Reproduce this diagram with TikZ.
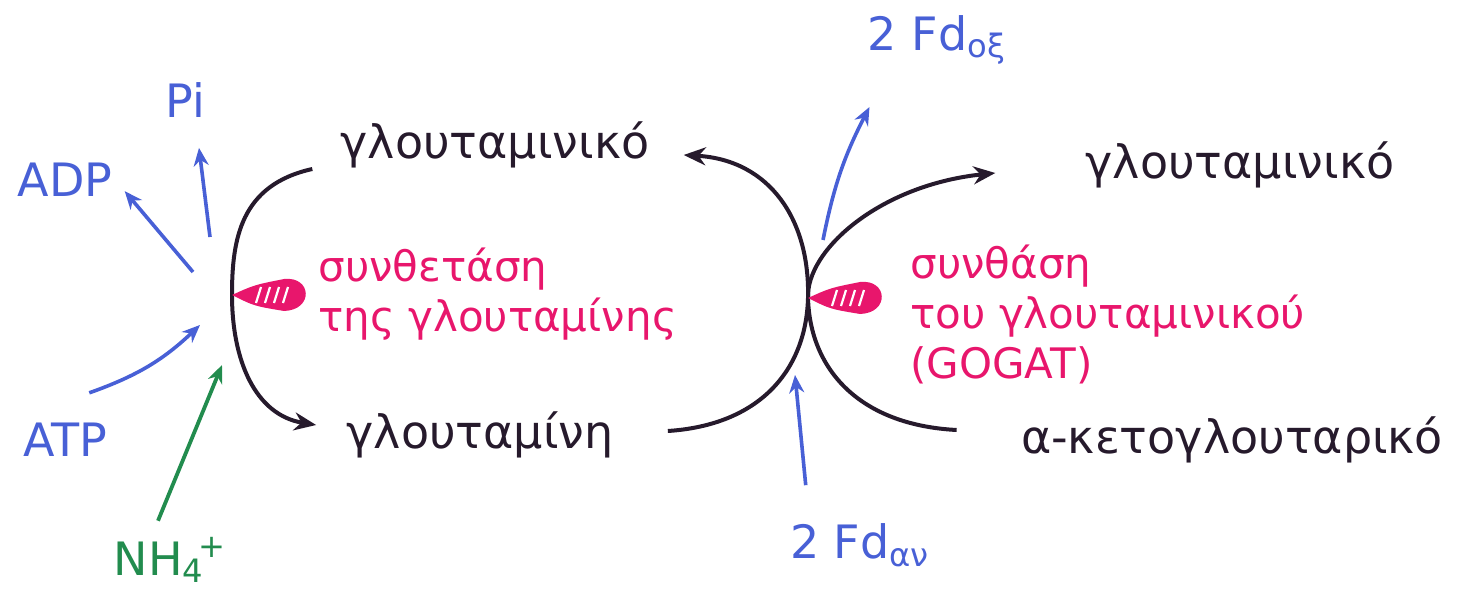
\documentclass[tikz,border=0pt]{standalone}
\usepackage{fontspec}
\setmainfont{DejaVu Sans}
\usetikzlibrary{arrows.meta}
\definecolor{inkblack}{RGB}{38,26,44}
\definecolor{inkblue}{RGB}{72,96,214}
\definecolor{inkpink}{RGB}{232,22,108}
\definecolor{inkgreen}{RGB}{34,140,78}
\tikzset{
  compound/.style={
    text=inkblack,
    font=\fontsize{23}{27}\selectfont,
    inner sep=2pt
    },
  enzyme/.style={
    text=inkpink,
    font=\fontsize{21}{25}\selectfont,
    align=left,
    inner sep=0pt
    },
  cofactor/.style={
    text=inkblue,
    font=\fontsize{23}{27}\selectfont,
    inner sep=2pt
    },
  reaction/.style={draw=inkblack, line width=2pt, -{Stealth[length=11pt,width=9pt]}},
  cofarrow/.style={draw=inkblue, line width=1.8pt, -{Stealth[length=9pt,width=7.5pt]}},
  nharrow/.style={draw=inkgreen, line width=1.9pt, -{Stealth[length=9pt,width=7.5pt]}},
  enzmark/.pic={
    \fill[inkpink] (0,0) .. controls (22,-10) .. (52,-16)
      .. controls (80,-19) and (82,15) .. (52,16)
      .. controls (22,11) .. (0,0) -- cycle;
    \foreach \hx in {24,33,42,51}
      \draw[white, line width=1.1pt] (\hx,8) -- (\hx+5,-8);
  },
}
\begin{document}
\begin{tikzpicture}[x=0.5pt, y=-0.5pt]
  \useasboundingbox (0,0) rectangle (1459,598);

  % compounds
  \node[compound] (glu1) at (495,145) {γλουταμινικό};
  \node[compound] (gln) at (480,435) {γλουταμίνη};
  \node[compound] (glu2) at (1240,165) {γλουταμινικό};
  \node[compound] (akg) at (1232,440) {α-κετογλουταρικό};

  % enzymes
  \node[enzyme, anchor=west] (gs) at (318,294) {συνθετάση\\της γλουταμίνης};
  \node[enzyme, anchor=west] (gogat) at (910,314) {συνθάση\\του γλουταμινικού\\(GOGAT)};

  % cofactors
  \node[cofactor] (pi) at (185,100) {Pi};
  \node[cofactor] (adp) at (65,180) {ADP};
  \node[cofactor] (atp) at (65,440) {ATP};
  \node[cofactor, text=inkgreen] (nh4) at (170,560) {NH\textsubscript{4}\kern-3pt\textsuperscript{+}};
  \node[cofactor] (fdox) at (937,40) {2 Fd\textsubscript{οξ}};
  \node[cofactor] (fdred) at (860,545) {2 Fd\textsubscript{αν}};

  \coordinate (gsc) at (232,295);
  \coordinate (gogatc) at (808,298);
  \coordinate (adpout) at (193,272);
  \coordinate (piout) at (210,237);
  \coordinate (atpin) at (200,325);
  \coordinate (nhin) at (222,365);
  \coordinate (fdoxout) at (823,240);
  \coordinate (fdredin) at (795,375);

  % glutamine synthetase
  \draw[reaction] ([xshift=-12pt,yshift=-12pt]glu1.west)
    .. controls (240,185) and (232,240) .. (gsc)
    .. controls (232,360) and (255,415) .. ([xshift=-13pt,yshift=5pt]gln.west);
  \pic at (gsc) {enzmark};

  % GOGAT
  \draw[reaction] ([xshift=25pt,yshift=2pt]gln.east)
    .. controls (760,425) and (806,370) .. (gogatc)
    .. controls (810,220) and (770,160) .. ([xshift=15pt,yshift=-5pt]glu1.east);
  \draw[reaction] ([xshift=-30pt,yshift=5pt]akg.west)
    .. controls (860,425) and (810,370) .. (gogatc)
    .. controls (806,250) and (880,185) .. ([xshift=-43pt,yshift=-4pt]glu2.west);
  \pic at (gogatc) {enzmark};

  % cofactor arrows
  \draw[cofarrow] (adpout) -- ([xshift=4pt,yshift=5pt]adp.south east);
  \draw[cofarrow] (piout) -- ([xshift=7pt,yshift=-13pt]pi.south);
  \draw[cofarrow] ([xshift=-11pt,yshift=13pt]atp.north east) to[bend right=12] (atpin);
  \draw[nharrow] ([xshift=-6pt,yshift=6pt]nh4.north) -- (nhin);
  \draw[cofarrow] (fdoxout) to[bend left=8] ([xshift=3pt,yshift=-19pt]fdox.south west);
  \draw[cofarrow] ([xshift=10pt,yshift=17pt]fdred.north west) -- (fdredin);
\end{tikzpicture}
\end{document}
